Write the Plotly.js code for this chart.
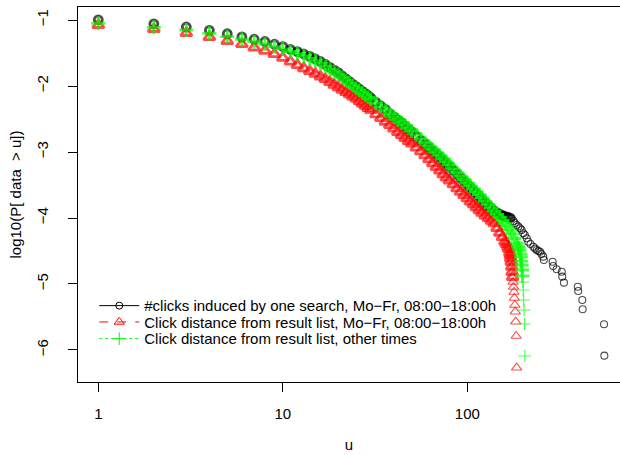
<!DOCTYPE html>
<html><head><meta charset="utf-8">
<script src="https://cdn.plot.ly/plotly-3.0.1.min.js"></script>
<style>html,body{margin:0;padding:0;background:#fff;} #chart{width:620px;height:455px;}</style>
</head><body><div id="chart"></div>
<script>
// ---- data ----
const seriesNames = [
  "#clicks induced by one search, Mo\u2212Fr, 08:00\u221218:00h",
  "Click distance from result list, Mo\u2212Fr, 08:00\u221218:00h",
  "Click distance from result list, other times"
];
const denseU = [1,2,3,4,5,6,7,8,9,10,11,12,13,14,15,16,17,18,19,20,21,22,23,24,25,26,27,28,29,30,
  32,34,36,38,40,42,44,46,48,50,53,56,59,62,65,68,71,74,77,80,84,88,92,96,100,104,108,112,116,120];

const blackDenseV = [-0.997,-1.058,-1.106,-1.156,-1.208,-1.255,-1.291,-1.326,-1.367,-1.402,
  -1.447,-1.479,-1.515,-1.552,-1.591,-1.628,-1.673,-1.717,-1.758,-1.797,
  -1.848,-1.892,-1.933,-1.974,-2.010,-2.047,-2.082,-2.116,-2.148,-2.180,
  -2.247,-2.303,-2.355,-2.420,-2.467,-2.512,-2.555,-2.609,-2.653,-2.697,
  -2.765,-2.825,-2.879,-2.931,-2.981,-3.029,-3.073,-3.125,-3.173,-3.218,
  -3.278,-3.335,-3.388,-3.440,-3.490,-3.537,-3.584,-3.628,-3.670,-3.714];
const blackTailU = [125,130,135,140,145,150,155,160,165,170,174,178,181,185,189,193,197,201,205,210,
  214,220,228,233,238,243,248,252,258,260,290,292,305,325,327,334,397,399,420,422,551,553];
const blackTailV = [-3.768,-3.821,-3.856,-3.894,-3.921,-3.947,-3.962,-3.977,-3.988,-3.997,
  -4.005,-4.045,-4.076,-4.106,-4.129,-4.156,-4.182,-4.232,-4.258,-4.308,
  -4.359,-4.394,-4.435,-4.462,-4.485,-4.500,-4.511,-4.545,-4.586,-4.636,
  -4.662,-4.727,-4.777,-4.814,-4.889,-4.980,-5.041,-5.106,-5.242,-5.383,
  -5.611,-6.086];

const redDenseV = [-1.076,-1.136,-1.197,-1.258,-1.318,-1.367,-1.418,-1.467,-1.518,-1.573,
  -1.632,-1.683,-1.732,-1.776,-1.817,-1.856,-1.897,-1.941,-1.982,-2.021,
  -2.059,-2.094,-2.127,-2.162,-2.192,-2.229,-2.265,-2.300,-2.333,-2.367,
  -2.429,-2.488,-2.542,-2.594,-2.647,-2.697,-2.744,-2.788,-2.833,-2.874,
  -2.933,-2.991,-3.050,-3.112,-3.173,-3.230,-3.283,-3.338,-3.389,-3.435,
  -3.492,-3.550,-3.603,-3.653,-3.703,-3.750,-3.795,-3.839,-3.882,-3.923];
const redTailU = [125,130,135,140,145,150,155,160,163,166,168,170,171,172,173,174,175,176,177,178,
  179,180,181,182,183,184,185];
const redTailV = [-3.965,-4.003,-4.042,-4.083,-4.155,-4.224,-4.291,-4.358,-4.394,-4.432,
  -4.470,-4.530,-4.568,-4.614,-4.667,-4.742,-4.818,-4.894,-4.970,-5.045,
  -5.121,-5.212,-5.318,-5.420,-5.571,-5.788,-6.268];

const greenDenseV = [-1.050,-1.111,-1.152,-1.202,-1.253,-1.292,-1.329,-1.364,-1.405,-1.439,
  -1.477,-1.509,-1.545,-1.582,-1.621,-1.658,-1.703,-1.747,-1.788,-1.827,
  -1.871,-1.915,-1.956,-1.997,-2.033,-2.070,-2.105,-2.139,-2.171,-2.203,
  -2.262,-2.318,-2.370,-2.420,-2.467,-2.512,-2.555,-2.594,-2.638,-2.682,
  -2.742,-2.802,-2.856,-2.908,-2.958,-3.006,-3.050,-3.102,-3.150,-3.195,
  -3.255,-3.312,-3.365,-3.417,-3.467,-3.514,-3.561,-3.605,-3.647,-3.691];
const greenTailU = [125,130,135,140,145,150,155,160,165,170,175,180,185,188,190,192,194,195,196,197,
  198,199,200,201,202,203,204,205];
const greenTailV = [-3.745,-3.798,-3.848,-3.898,-3.945,-3.991,-4.035,-4.079,-4.124,-4.182,
  -4.242,-4.311,-4.379,-4.424,-4.455,-4.492,-4.545,-4.591,-4.652,-4.712,
  -4.788,-4.879,-4.970,-5.091,-5.242,-5.394,-5.606,-6.091];

const xTickVals = [1, 10, 100];
const xTickText = ["1", "10", "100"];
const yTickVals = [-1, -2, -3, -4, -5, -6];
const yTickText = ["\u22121", "\u22122", "\u22123", "\u22124", "\u22125", "\u22126"];

// ---- styles ----
const FONT = {family: "Liberation Sans, Arial, Helvetica, sans-serif", size: 15, color: "#000"};
const styles = [
  {color: "#000000", symbol: "circle-open", size: 8, dash: "solid", thickUntil: 170},
  {color: "#FF0000", symbol: "triangle-up-open", size: 10, dash: "dash", thickUntil: 176},
  {color: "#00FF00", symbol: "cross-thin-open", size: 10, dash: "dot", thickUntil: 199}
];
const seriesX = [denseU.concat(blackTailU), denseU.concat(redTailU), denseU.concat(greenTailU)];
const seriesY = [blackDenseV.concat(blackTailV), redDenseV.concat(redTailV), greenDenseV.concat(greenTailV)];
const legendIds = ["legend", "legend2", "legend3"];

const traces = [];
for (let i = 0; i < 3; i++) {
  const widths = seriesX[i].map(u => (u <= styles[i].thickUntil ? 2.8 : 1.1));
  const sizes = seriesX[i].map(u => (u <= styles[i].thickUntil ? styles[i].size : styles[i].size - 1));
  traces.push({
    type: "scatter", mode: "markers", x: seriesX[i], y: seriesY[i], showlegend: false,
    marker: {symbol: styles[i].symbol, size: sizes, color: styles[i].color,
             line: {color: styles[i].color, width: widths}},
    hoverinfo: "skip"
  });
}
for (let i = 0; i < 3; i++) {
  traces.push({
    type: "scatter", mode: "lines+markers", x: [null], y: [null], name: seriesNames[i],
    legend: legendIds[i],
    line: {color: styles[i].color, width: 1, dash: styles[i].dash},
    marker: {symbol: styles[i].symbol, size: styles[i].size - 1, color: styles[i].color,
             line: {color: styles[i].color, width: 1}}
  });
}

const legendBase = {x: 0.03, xanchor: "left", yanchor: "top", bgcolor: "rgba(0,0,0,0)",
                    borderwidth: 0, font: FONT, itemwidth: 40};
const legendTops = [0.247, 0.2035, 0.159];

const layout = {
  width: 620, height: 455,
  margin: {l: 78, r: 0, t: 7, b: 73, pad: 0},
  paper_bgcolor: "#fff", plot_bgcolor: "#fff",
  font: FONT,
  showlegend: true,
  legend: Object.assign({}, legendBase, {y: legendTops[0]}),
  legend2: Object.assign({}, legendBase, {y: legendTops[1]}),
  legend3: Object.assign({}, legendBase, {y: legendTops[2]}),
  xaxis: {
    type: "log", range: [-0.110, 2.8276], autorange: false,
    tickvals: xTickVals, ticktext: xTickText,
    ticks: "outside", ticklen: 9, tickwidth: 1, tickcolor: "#000",
    showline: true, mirror: true, linecolor: "#000", linewidth: 1,
    showgrid: false, zeroline: false, ticklabelstandoff: 9,
    tickfont: FONT,
    title: {text: "u", font: FONT, standoff: 18}
  },
  yaxis: {
    range: [-6.485, -0.803], autorange: false,
    tickvals: yTickVals, ticktext: yTickText, tickangle: -90,
    ticks: "outside", ticklen: 9, tickwidth: 1, tickcolor: "#000",
    showline: true, mirror: false, linecolor: "#000", linewidth: 1,
    showgrid: false, zeroline: false, ticklabelstandoff: 14,
    tickfont: FONT,
    title: {text: "log10(P[ data\u00a0 > u])", font: FONT, standoff: 8}
  }
};
Plotly.newPlot("chart", traces, layout, {staticPlot: true, displayModeBar: false});
</script></body></html>
